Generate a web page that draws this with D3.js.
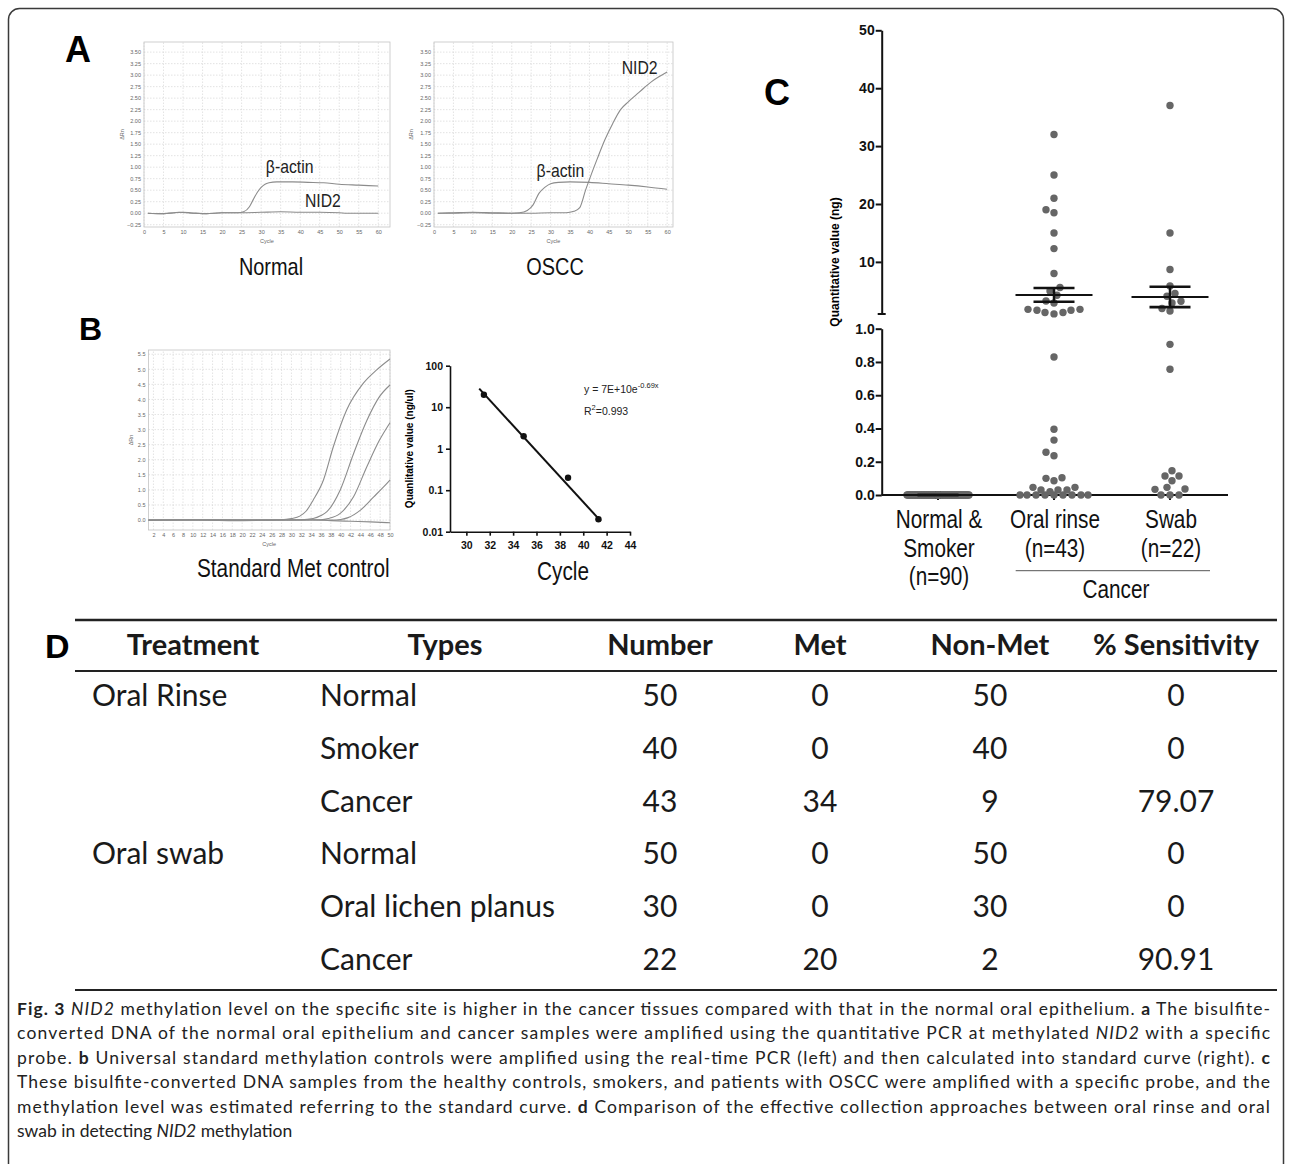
<!DOCTYPE html>
<html>
<head>
<meta charset="utf-8">
<script src="https://cdn.jsdelivr.net/npm/d3@7"></script>
<style>
  body { margin: 0; background: #fff; }
  svg { display: block; }
</style>
</head>
<body>
<script>
// ---------- DATA ----------
// panel A : amplification curves, [cycle, dRn]
const normalActin = [[1, 0], [4, -0.01], [8, 0.01], [10, 0.02], [12, 0.01], [16, -0.01], [20, 0.01], [24, 0.01],
  [25.5, 0.03], [27, 0.14], [28, 0.3], [29, 0.45], [30, 0.56], [31, 0.63], [32, 0.66], [34, 0.68], [38, 0.68],
  [42, 0.67], [46, 0.66], [50, 0.63], [55, 0.61], [60, 0.59]]
const normalNid2 = [[1, 0], [5, -0.01], [9, 0.02], [12, 0], [16, -0.01], [20, 0.01], [25, 0.01], [30, 0.02],
  [35, 0.03], [40, 0.02], [45, 0.02], [50, 0.01], [52, 0], [60, 0]]
const osccActin = [[1, 0], [5, 0.01], [10, 0.02], [15, 0.01], [20, 0], [22, 0.01], [24, 0.06], [25.5, 0.18],
  [27, 0.43], [28.5, 0.56], [30, 0.64], [32, 0.67], [35, 0.68], [40, 0.67], [45, 0.64], [50, 0.61], [55, 0.57], [60, 0.52]]
const osccNid2 = [[1, 0], [5, 0], [10, 0.01], [15, 0], [20, 0], [25, 0], [30, 0.01], [34, 0.01], [36, 0.04],
  [37.5, 0.12], [39, 0.5], [40.5, 0.85], [42, 1.18], [44, 1.6], [46, 1.95], [48, 2.25], [50, 2.42], [52, 2.57],
  [54, 2.72], [56, 2.86], [58, 2.97], [60, 3.07]]
const ampTicksX = [0, 5, 10, 15, 20, 25, 30, 35, 40, 45, 50, 55, 60]
const ampTicksY = [-0.25, 0, 0.25, 0.5, 0.75, 1, 1.25, 1.5, 1.75, 2, 2.25, 2.5, 2.75, 3, 3.25, 3.5]

// panel B left : standard methylation controls
const std1 = [[1, 0], [10, 0.01], [20, 0], [28, 0.01], [30, 0.05], [31.7, 0.13], [33, 0.3], [34.4, 0.66],
  [36.5, 1.33], [38.5, 2.43], [41.2, 3.65], [44.6, 4.54], [47.3, 4.98], [50, 5.34]]
const std2 = [[1, 0], [20, 0], [32, 0.01], [34.4, 0.05], [36, 0.15], [37.2, 0.28], [39.9, 1.0], [42.6, 2.2],
  [45.3, 3.3], [47.9, 4.1], [50, 4.48]]
const std3 = [[1, 0], [30, 0], [36, 0.01], [37.5, 0.05], [39.9, 0.22], [42.6, 0.77], [45.3, 1.77], [47.9, 2.66], [50, 3.23]]
const std4 = [[1, 0], [30, 0], [38, 0], [40, 0.02], [41.5, 0.08], [44, 0.33], [46.7, 0.77], [48.7, 1.1], [50, 1.33]]
const std5 = [[1, -0.01], [10, 0.01], [18, -0.02], [28, 0], [34, 0.01], [38, -0.02], [42, -0.04], [46, -0.06], [50, -0.09]]
const stdTicksX = [2, 4, 6, 8, 10, 12, 14, 16, 18, 20, 22, 24, 26, 28, 30, 32, 34, 36, 38, 40, 42, 44, 46, 48, 50]
const stdTicksY = [0, 0.5, 1, 1.5, 2, 2.5, 3, 3.5, 4, 4.5, 5, 5.5]

// panel B right : standard curve
const curveCycles = [31.5, 34.9, 38.7, 41.3]
const curveConc = [20, 2, 0.2, 0.02]
const fitCycles = [31.1, 41.5]
const fitConc = [28, 0.018]
const curveTicksX = [30, 32, 34, 36, 38, 40, 42, 44]
const curveTicksY = [0.01, 0.1, 1, 10, 100]

// panel C : quantitative values (ng)
const normalSmokerValues = new Array(90).fill(0)
const rinseValues = [32, 25, 21, 19, 18.5, 15, 12.3, 8, 5.57, 4.98, 4.24, 2.9, 3.25,
  1.8, 1.64, 1.25, 1.02, 1.25, 1.64, 1.8,
  0.83, 0.395, 0.33, 0.236, 0.257, 0.1, 0.086, 0.104, 0.03, 0.03, 0.046, 0.046, 0.02, 0.03,
  0, 0, 0, 0, 0, 0, 0, 0, 0]
const swabValues = [37, 15, 8.68, 5.85, 4.53, 4.07, 2.9, 3.2, 1.52, 1.94,
  0.906, 0.756, 0.146, 0.114, 0.086, 0.114, 0.036, 0, 0, 0, 0.034, 0.046]
const groupNames = ['normal', 'rinse', 'swab']
const groupLabels = [['Normal &', 'Smoker', '(n=90)'], ['Oral rinse', '(n=43)'], ['Swab', '(n=22)']]
const upperTicks = [10, 20, 30, 40, 50]
const lowerTicks = [0, 0.2, 0.4, 0.6, 0.8, 1.0]

// panel D : table
const tableHeaders = ['Treatment', 'Types', 'Number', 'Met', 'Non-Met', '% Sensitivity']
const tableTreatment = ['Oral Rinse', '', '', 'Oral swab', '', '']
const tableTypes = ['Normal', 'Smoker', 'Cancer', 'Normal', 'Oral lichen planus', 'Cancer']
const tableNumber = [50, 40, 43, 50, 30, 22]
const tableMet = [0, 0, 34, 0, 0, 20]
const tableNonMet = [50, 40, 9, 50, 30, 2]
const tableSensitivity = ['0', '0', '79.07', '0', '0', '90.91']

// caption, [text, style]
const captionLines = [
  [['Fig. 3', 'b'], [' ', ''], ['NID2', 'i'], [' methylation level on the specific site is higher in the cancer tissues compared with that in the normal oral epithelium. ', ''], ['a', 'b'], [' The bisulfite-', '']],
  [['converted DNA of the normal oral epithelium and cancer samples were amplified using the quantitative PCR at methylated ', ''], ['NID2', 'i'], [' with a specific', '']],
  [['probe. ', ''], ['b', 'b'], [' Universal standard methylation controls were amplified using the real-time PCR (left) and then calculated into standard curve (right). ', ''], ['c', 'b']],
  [['These bisulfite-converted DNA samples from the healthy controls, smokers, and patients with OSCC were amplified with a specific probe, and the', '']],
  [['methylation level was estimated referring to the standard curve. ', ''], ['d', 'b'], [' Comparison of the effective collection approaches between oral rinse and oral', '']],
  [['swab in detecting ', ''], ['NID2', 'i'], [' methylation', '']]
]

// ---------- SETUP ----------
const ARIAL = '"Liberation Sans", Arial, sans-serif'
const BODY = 'Lato, "Open Sans", sans-serif'
const SQUEEZE = 0.83   // the figure uses a condensed Arial

const svg = d3.select('body').append('svg')
  .attr('width', 1292)
  .attr('height', 1164)

svg.append('rect').attr('width', 1292).attr('height', 1164).attr('fill', '#fff')
svg.append('rect')
  .attr('x', 8.5).attr('y', 8.5)
  .attr('width', 1275).attr('height', 1170)
  .attr('rx', 11)
  .attr('fill', 'none')
  .attr('stroke', '#3a3a3a')
  .attr('stroke-width', 1.5)

function panelLabel(txt, x, y, size) {
  svg.append('text')
    .attr('x', x).attr('y', y)
    .attr('font-family', ARIAL)
    .attr('font-weight', 'bold')
    .attr('font-size', size)
    .text(txt)
}

// condensed label, drawn with Arial squeezed horizontally
function bigLabel(parent, txt, x, y, size, anchor) {
  return parent.append('text')
    .attr('transform', `translate(${x},${y}) scale(${SQUEEZE},1)`)
    .attr('text-anchor', anchor || 'middle')
    .attr('font-family', ARIAL)
    .attr('font-size', size)
    .attr('fill', '#111')
    .text(txt)
}

// instrument style amplification plot
function ampPlot(cfg) {
  const x = d3.scaleLinear().domain(cfg.xDomain).range(cfg.xRange)
  const y = d3.scaleLinear().domain(cfg.yDomain).range(cfg.yRange)
  const [x0, x1] = cfg.xRange
  const [y0, y1] = cfg.yRange
  const g = svg.append('g')

  g.append('g').selectAll('line').data(cfg.xTicks).join('line')
    .attr('x1', d => x(d)).attr('x2', d => x(d))
    .attr('y1', y0).attr('y2', y1)
    .attr('stroke', '#d0d0d0').attr('stroke-width', 0.6).attr('stroke-dasharray', '1.5,1.5')
  g.append('g').selectAll('line').data(cfg.yTicks).join('line')
    .attr('x1', x0).attr('x2', x1)
    .attr('y1', d => y(d)).attr('y2', d => y(d))
    .attr('stroke', '#d0d0d0').attr('stroke-width', 0.6).attr('stroke-dasharray', '1.5,1.5')
  g.append('rect')
    .attr('x', x0).attr('y', y1)
    .attr('width', x1 - x0).attr('height', y0 - y1)
    .attr('fill', 'none').attr('stroke', '#c4c4c4').attr('stroke-width', 0.8)

  g.append('g')
    .attr('transform', `translate(0,${y0})`)
    .call(d3.axisBottom(x).tickValues(cfg.xTicks).tickSize(0).tickPadding(3))
  g.append('g')
    .attr('transform', `translate(${x0},0)`)
    .call(d3.axisLeft(y).tickValues(cfg.yTicks).tickFormat(d3.format(cfg.yFormat)).tickSize(0).tickPadding(3))
  g.selectAll('.domain').remove()
  g.selectAll('.tick text')
    .attr('font-size', 5.5)
    .attr('font-family', ARIAL)
    .attr('fill', '#666')

  g.append('text')
    .attr('x', (x0 + x1) / 2).attr('y', y0 + 16)
    .attr('text-anchor', 'middle')
    .attr('font-family', ARIAL).attr('font-size', 5.5).attr('fill', '#666')
    .text('Cycle')
  g.append('text')
    .attr('transform', `translate(${cfg.yLabelX},${(y0 + y1) / 2}) rotate(-90)`)
    .attr('text-anchor', 'middle')
    .attr('font-family', ARIAL).attr('font-size', 5.5).attr('fill', '#666')
    .text('ΔRn')

  const plotLine = d3.line()
    .x(d => x(d[0]))
    .y(d => y(d[1]))
    .curve(d3.curveMonotoneX)
  cfg.series.forEach(s => {
    g.append('path')
      .datum(s)
      .attr('d', plotLine)
      .attr('fill', 'none')
      .attr('stroke', '#8c8c8c')
      .attr('stroke-width', 1.1)
  })
  ;(cfg.notes || []).forEach(n => {
    bigLabel(g, n.text, x(n.cycle), y(n.value), 19, 'start').attr('fill', '#222')
  })
  return { x, y, g }
}

// ---------- PANEL A ----------
panelLabel('A', 65, 62, 36)
ampPlot({
  xDomain: [0, 63], xRange: [144, 390],
  yDomain: [-0.3, 3.72], yRange: [227, 42],
  xTicks: ampTicksX, yTicks: ampTicksY, yFormat: '.2f', yLabelX: 124,
  series: [normalNid2, normalActin],
  notes: [{ text: 'β-actin', cycle: 31.2, value: 0.87 }, { text: 'NID2', cycle: 41.2, value: 0.14 }]
})
ampPlot({
  xDomain: [0, 61.5], xRange: [434, 673],
  yDomain: [-0.3, 3.72], yRange: [227, 42],
  xTicks: ampTicksX, yTicks: ampTicksY, yFormat: '.2f', yLabelX: 413,
  series: [osccActin, osccNid2],
  notes: [{ text: 'β-actin', cycle: 26.4, value: 0.79 }, { text: 'NID2', cycle: 48.3, value: 3.02 }]
})
bigLabel(svg, 'Normal', 271, 275, 24)
bigLabel(svg, 'OSCC', 555, 275, 24)

// ---------- PANEL B ----------
panelLabel('B', 79, 340, 32)
ampPlot({
  xDomain: [1, 50], xRange: [148.5, 390],
  yDomain: [-0.33, 5.64], yRange: [530, 350],
  xTicks: stdTicksX, yTicks: stdTicksY, yFormat: '.1f', yLabelX: 133,
  series: [std5, std4, std3, std2, std1]
})
bigLabel(svg, 'Standard Met control', 197, 577, 25, 'start')

{
  const xs = d3.scaleLinear().domain([28.6, 44]).range([450, 630])
  const ys = d3.scaleLog().domain([0.01, 100]).range([531.7, 365.7])
  const g = svg.append('g')
  g.append('g')
    .attr('transform', 'translate(0,531.7)')
    .call(d3.axisBottom(xs).tickValues(curveTicksX).tickSize(4).tickSizeOuter(0).tickPadding(6))
  g.append('g')
    .attr('transform', 'translate(450,0)')
    .call(d3.axisLeft(ys).tickValues(curveTicksY).tickFormat(d => String(d)).tickSize(4).tickSizeOuter(0).tickPadding(3))
  g.selectAll('.domain, .tick line').attr('stroke', '#111').attr('stroke-width', 1.6)
  g.selectAll('.tick text')
    .attr('font-family', ARIAL).attr('font-weight', 'bold').attr('font-size', 10.5).attr('fill', '#111')

  const fit = fitCycles.map((c, i) => [c, fitConc[i]])
  g.append('path')
    .datum(fit)
    .attr('d', d3.line().x(d => xs(d[0])).y(d => ys(d[1])))
    .attr('stroke', '#111').attr('stroke-width', 2).attr('fill', 'none')
  g.selectAll('circle').data(curveCycles).join('circle')
    .attr('cx', d => xs(d)).attr('cy', (d, i) => ys(curveConc[i]))
    .attr('r', 3.2).attr('fill', '#111')

  g.append('text')
    .attr('transform', 'translate(413,448.7) rotate(-90)')
    .attr('text-anchor', 'middle')
    .attr('font-family', ARIAL).attr('font-weight', 'bold').attr('font-size', 10)
    .text('Quanlitative value (ng/ul)')

  const eq = g.append('text')
    .attr('x', 584).attr('y', 393)
    .attr('font-family', ARIAL).attr('font-size', 10.5).attr('fill', '#222')
  eq.append('tspan').text('y = 7E+10e')
  eq.append('tspan').attr('dy', -5).attr('font-size', 7.5).text('-0.69x')
  const r2 = g.append('text')
    .attr('x', 584).attr('y', 415)
    .attr('font-family', ARIAL).attr('font-size', 10.5).attr('fill', '#222')
  r2.append('tspan').text('R')
  r2.append('tspan').attr('dy', -5).attr('font-size', 7.5).text('2')
  r2.append('tspan').attr('dy', 5).text('=0.993')

  bigLabel(g, 'Cycle', 563, 580, 25)
}

// ---------- PANEL C ----------
panelLabel('C', 764, 105, 36)
{
  const axisX = 881.7
  const yUp = d3.scaleLinear().domain([1, 50]).range([314, 30.3])
  const yLow = d3.scaleLinear().domain([0, 1]).range([495, 328.7])
  const yOf = v => v >= 1 ? yUp(v) : yLow(v)
  const xg = d3.scalePoint().domain(groupNames).range([880, 1228]).padding(0.5)
  const g = svg.append('g')

  g.append('g').attr('transform', `translate(${axisX},0)`)
    .call(d3.axisLeft(yUp).tickValues(upperTicks).tickSize(6).tickSizeOuter(0).tickPadding(1))
  g.append('g').attr('transform', `translate(${axisX},0)`)
    .call(d3.axisLeft(yLow).tickValues(lowerTicks).tickFormat(d3.format('.1f')).tickSize(6).tickSizeOuter(0).tickPadding(1))
  g.append('line')
    .attr('x1', axisX - 4).attr('x2', axisX + 4)
    .attr('y1', yUp(1)).attr('y2', yUp(1))
  g.append('line')
    .attr('x1', axisX).attr('x2', 1228)
    .attr('y1', yLow(0)).attr('y2', yLow(0))
  groupNames.forEach(n => {
    g.append('line')
      .attr('x1', xg(n)).attr('x2', xg(n))
      .attr('y1', yLow(0)).attr('y2', yLow(0) + 5)
  })
  g.selectAll('.domain, line').attr('stroke', '#111').attr('stroke-width', 2)
  g.selectAll('.tick text')
    .attr('font-family', ARIAL).attr('font-weight', 'bold').attr('font-size', 14).attr('fill', '#111')

  g.append('text')
    .attr('transform', 'translate(839,262) rotate(-90)')
    .attr('text-anchor', 'middle')
    .attr('font-family', ARIAL).attr('font-weight', 'bold').attr('font-size', 12)
    .text('Quantitative value (ng)')

  // simple beeswarm: bottom points first, nearest free offset, else least overlap
  function swarm(values, cx, r, maxHalf) {
    const minD = 2 * r + 0.8
    const pts = values.map(v => ({ v, y: yOf(v) })).sort((a, b) => b.y - a.y)
    const placed = []
    pts.forEach(p => {
      let best = 0, bestD = -1
      outer:
      for (let k = 0; k <= maxHalf; k++) {
        for (const s of (k === 0 ? [0] : [-k, k])) {
          let md = Infinity
          for (const q of placed) {
            const d = Math.hypot(q.dx - s, q.y - p.y)
            if (d < md) md = d
          }
          if (md >= minD) { best = s; bestD = Infinity; break outer }
          if (md > bestD) { bestD = md; best = s }
        }
      }
      p.dx = best
      placed.push(p)
    })
    return placed.map(p => ({ x: cx + p.dx, y: p.y }))
  }

  const groups = [
    { name: 'normal', values: normalSmokerValues, half: 31 },
    { name: 'rinse', values: rinseValues, half: 34 },
    { name: 'swab', values: swabValues, half: 34 }
  ]
  const r = 3.7
  groups.forEach(gr => {
    const cx = xg(gr.name)
    const dots = swarm(gr.values, cx, r, gr.half)
    g.append('g').selectAll('circle').data(dots).join('circle')
      .attr('cx', d => d.x).attr('cy', d => d.y).attr('r', r)
      .attr('fill', '#666')
    const mean = d3.mean(gr.values)
    const sem = d3.deviation(gr.values) / Math.sqrt(gr.values.length)
    const mg = g.append('g').attr('stroke', '#111')
    mg.append('line')
      .attr('x1', cx - 38.5).attr('x2', cx + 38.5)
      .attr('y1', yOf(mean)).attr('y2', yOf(mean))
      .attr('stroke-width', 2)
    mg.append('line')
      .attr('x1', cx).attr('x2', cx)
      .attr('y1', yOf(mean - sem)).attr('y2', yOf(mean + sem))
      .attr('stroke-width', 2.5)
    ;[mean - sem, mean + sem].forEach(v => {
      mg.append('line')
        .attr('x1', cx - 20.5).attr('x2', cx + 20.5)
        .attr('y1', yOf(v)).attr('y2', yOf(v))
        .attr('stroke-width', 2.6)
    })
  })

  groupLabels.forEach((lines, i) => {
    lines.forEach((t, j) => {
      bigLabel(svg, t, xg(groupNames[i]) + 1, 528 + j * 28.7, 25)
    })
  })
  svg.append('line')
    .attr('x1', 1015.7).attr('x2', 1210)
    .attr('y1', 570.7).attr('y2', 570.7)
    .attr('stroke', '#555').attr('stroke-width', 1)
  bigLabel(svg, 'Cancer', 1116, 598, 25)
}

// ---------- PANEL D ----------
panelLabel('D', 45, 658, 34)
{
  const colCenters = [193, 445, 660, 820, 990, 1176]
  const rowY = d3.scalePoint().domain(d3.range(tableTypes.length)).range([706, 970])
  const g = svg.append('g').attr('font-family', BODY).attr('fill', '#1a1a1a')

  ;[[620, 2.6], [671, 2], [990, 2]].forEach(([yy, w]) => {
    g.append('line')
      .attr('x1', 75).attr('x2', 1277)
      .attr('y1', yy).attr('y2', yy)
      .attr('stroke', '#222').attr('stroke-width', w)
  })

  g.selectAll('text.head').data(tableHeaders).join('text')
    .attr('class', 'head')
    .attr('x', (d, i) => colCenters[i]).attr('y', 655)
    .attr('text-anchor', 'middle')
    .attr('font-weight', 'bold').attr('font-size', 29)
    .text(d => d)

  const cell = (arr, x, anchor) => {
    g.append('g').selectAll('text').data(arr).join('text')
      .attr('x', x).attr('y', (d, i) => rowY(i))
      .attr('text-anchor', anchor)
      .attr('font-size', 30)
      .text(d => d)
  }
  cell(tableTreatment, 92, 'start')
  cell(tableTypes, 320, 'start')
  cell(tableNumber, colCenters[2], 'middle')
  cell(tableMet, colCenters[3], 'middle')
  cell(tableNonMet, colCenters[4], 'middle')
  cell(tableSensitivity, colCenters[5], 'middle')
}

// ---------- CAPTION ----------
captionLines.forEach((segs, i) => {
  const t = svg.append('text')
    .attr('x', 17).attr('y', 1015 + i * 24.4)
    .attr('font-family', BODY).attr('font-size', 17.5).attr('fill', '#222')
    .style('white-space', 'pre')
  if (i < captionLines.length - 1) {
    t.attr('textLength', 1253).attr('lengthAdjust', 'spacing')
  }
  segs.forEach(([txt, st]) => {
    const ts = t.append('tspan').text(txt)
    if (st === 'b') ts.attr('font-weight', 'bold')
    if (st === 'i') ts.attr('font-style', 'italic')
  })
})
</script>
</body>
</html>
